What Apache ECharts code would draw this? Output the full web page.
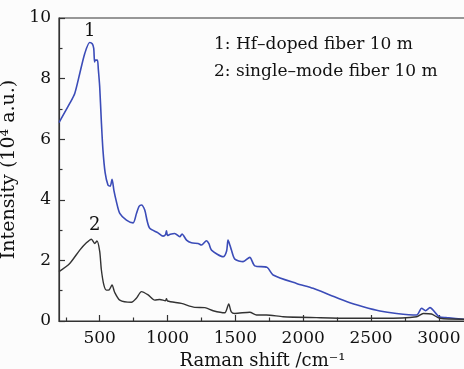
<!DOCTYPE html>
<html><head><meta charset="utf-8">
<script src="https://cdn.jsdelivr.net/npm/echarts@6/dist/echarts.min.js"></script>
<style>html,body{margin:0;padding:0;background:#fcfcfc}#c{width:464px;height:369px}</style>
</head><body><div id="c"></div>
<script>
// Series 1: Hf-doped fiber 10 m
const hfShift = [200,279,316,353,390,426,445,456,462,468,483,490,500,512,524,540,561,578,591,605,623,648,697,746,771,790,808,832,850,869,930,967,985,992,1000,1020,1053,1090,1107,1140,1176,1225,1250,1287,1305,1324,1410,1435,1446,1460,1471,1496,1557,1606,1643,1734,1778,1951,2073,2196,2319,2442,2565,2688,2836,2873,2902,2934,3002,3057,3200];
const hfValue = [6.55,7.18,7.51,8.17,8.83,9.19,9.15,9.0,8.55,8.61,8.61,8.3,7.73,6.6,5.64,4.9,4.49,4.45,4.68,4.3,3.94,3.55,3.33,3.24,3.55,3.78,3.83,3.66,3.3,3.06,2.91,2.8,2.85,2.98,2.82,2.86,2.89,2.78,2.87,2.67,2.58,2.56,2.51,2.65,2.55,2.34,2.12,2.3,2.67,2.5,2.34,2.04,1.96,2.1,1.82,1.77,1.52,1.24,1.08,0.86,0.64,0.47,0.33,0.25,0.2,0.42,0.34,0.44,0.14,0.11,0.05];
// Series 2: single-mode fiber 10 m
const smShift = [200,279,353,402,439,463,480,500,512,530,549,570,591,610,648,734,770,808,857,906,943,985,992,1000,1102,1201,1275,1336,1422,1451,1470,1496,1606,1656,1729,1852,2098,2344,2590,2836,2885,2946,3007,3200];
const smValue = [1.63,1.9,2.34,2.58,2.7,2.56,2.64,2.3,1.7,1.2,1.02,1.03,1.19,0.95,0.69,0.62,0.75,0.97,0.86,0.69,0.71,0.67,0.74,0.66,0.58,0.45,0.44,0.34,0.27,0.56,0.3,0.25,0.29,0.2,0.2,0.14,0.11,0.09,0.09,0.14,0.25,0.23,0.09,0.06];
const xMajor = [500,1000,1500,2000,2500,3000];
const xMinor = [250,750,1250,1750,2250,2750];
const legendLines = ['1: Hf\u2013doped fiber 10 m','2: single\u2013mode fiber 10 m'];

const F = 'DejaVu Serif';
const chart = echarts.init(document.getElementById('c'));
const pair = (xs, ys) => xs.map((x,i)=>[x, ys[i]]);
chart.setOption({
  backgroundColor:'#fcfcfc',
  animation:false,
  grid:{left:59,top:18,right:-2,bottom:48,outerBoundsMode:'none',containLabel:false,show:true,borderColor:'#333',borderWidth:1.2,backgroundColor:'transparent'},
  xAxis:[{
    type:'value',min:200,max:3200,
    name:'Raman shift /cm\u207B\u00B9',nameLocation:'middle',nameGap:25,
    nameTextStyle:{fontFamily:F,fontSize:18,color:'#111'},
    axisLine:{lineStyle:{color:'#333',width:1.2}},
    axisTick:{inside:true,length:6,customValues:xMajor,lineStyle:{color:'#333',width:1.2}},
    axisLabel:{customValues:xMajor,formatter:v=>String(v),fontFamily:F,fontSize:17,color:'#111',margin:9},
    splitLine:{show:false}
  },{
    type:'value',min:200,max:3200,position:'bottom',
    axisLine:{show:false},
    axisTick:{inside:true,length:3.5,customValues:xMinor,lineStyle:{color:'#333',width:1.2}},
    axisLabel:{show:false},splitLine:{show:false}
  }],
  yAxis:{
    type:'value',min:0,max:10,interval:2,
    name:'Intensity (10\u2074 a.u.)',nameLocation:'middle',nameGap:33,
    nameTextStyle:{fontFamily:F,fontSize:19,color:'#111'},
    axisLine:{show:true,lineStyle:{color:'#333',width:1.2}},
    axisTick:{inside:true,length:6,lineStyle:{color:'#333',width:1.2}},
    minorTick:{show:true,splitNumber:2,length:3.5,lineStyle:{color:'#333',width:1.2}},
    axisLabel:{fontFamily:F,fontSize:17,color:'#111',margin:8},
    splitLine:{show:false}
  },
  series:[
    {type:'line',data:pair(hfShift,hfValue),xAxisIndex:0,showSymbol:false,smooth:0.25,
     lineStyle:{color:'#3b4cb8',width:1.6},itemStyle:{color:'#3b4cb8'}},
    {type:'line',data:pair(smShift,smValue),xAxisIndex:0,showSymbol:false,smooth:0.25,
     lineStyle:{color:'#333',width:1.4},itemStyle:{color:'#333'}}
  ],
  graphic:[
    {type:'text',left:84,top:22,style:{text:'1',fontFamily:F,fontSize:18,fill:'#111'}},
    {type:'text',left:89,top:216,style:{text:'2',fontFamily:F,fontSize:18,fill:'#111'}},
    {type:'text',left:214,top:36,style:{text:legendLines[0],fontFamily:F,fontSize:17,fill:'#111'}},
    {type:'text',left:214,top:63,style:{text:legendLines[1],fontFamily:F,fontSize:17,fill:'#111'}}
  ]
});
</script></body></html>
